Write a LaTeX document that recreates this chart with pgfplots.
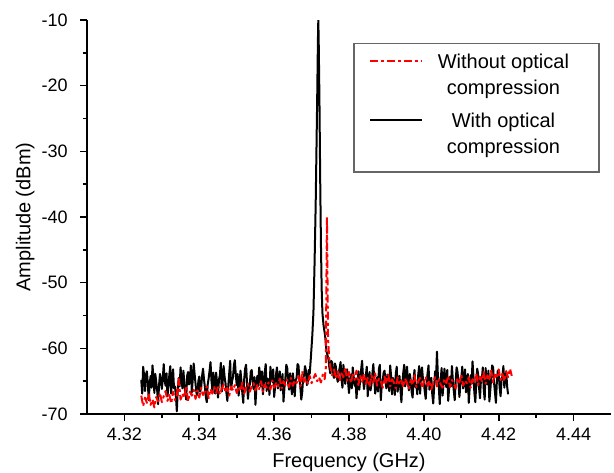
\documentclass[border=0pt]{standalone}
\usepackage{pgfplots}
\pgfplotsset{compat=1.18}
\usepackage{fontspec}
\setmainfont{Liberation Sans}
\pgfplotsset{
  legimgA/.style={legend image code/.code={\draw[##1, overlay] (-9.25pt,10.5pt) -- (29.75pt,10.5pt); \path (0pt,0pt) (39pt,10.5pt);}},
  legimgB/.style={legend image code/.code={\draw[##1, overlay] (-9.25pt,10.5pt) -- (29.75pt,10.5pt); \path (0pt,-21.75pt) (39pt,10.5pt);}},
}
\begin{document}
\begin{tikzpicture}
\begin{axis}[
  scale only axis, width=393pt, height=295.5pt,
  xmin=4.31, xmax=4.45, ymin=-70, ymax=-10,
  axis lines=left, axis line style={-, line width=1.2pt},
  xtick={4.32,4.34,4.36,4.38,4.40,4.42,4.44},
  ytick={-70,-60,-50,-40,-30,-20,-10},
  minor x tick num=1, minor y tick num=1,
  tick align=outside, major tick length=5pt, minor tick length=3pt,
  tick style={line width=1.2pt, black},
  /pgf/number format/assume math mode=true,
  xticklabel={\pgfmathprintnumber[fixed,fixed zerofill,precision=2]{\tick}},
  yticklabel={\pgfmathprintnumber[fixed,precision=0]{\tick}},
  ticklabel style={font=\fontsize{13.5}{16}\selectfont},
  xticklabel style={yshift=-2pt},
  yticklabel style={xshift=-6pt},
  label style={font=\fontsize{15}{18}\selectfont},
  xlabel={Frequency (GHz)}, ylabel={Amplitude (dBm)},
  xlabel style={at={(axis description cs:0.5,0)}, anchor=center, yshift=-36pt},
  ylabel style={at={(axis description cs:-0.118,0.5)}, anchor=center},
  legend reversed,
  legend style={at={(rel axis cs:0.508,0.942)}, anchor=north west, draw=black!60, line width=1pt,
    font=\fontsize{15}{19.5}\selectfont, inner xsep=20.5pt, inner ysep=6pt,
    cells={align=center}, row sep=8pt},
]
\coordinate (O) at (rel axis cs:0,0);
\addplot[black, line width=1.5pt, line join=round, legimgB] coordinates {
(4.32450,-64.8)(4.32475,-66.9)(4.32500,-62.8)(4.32525,-64.1)(4.32550,-66.5)(4.32575,-64.0)(4.32600,-63.5)(4.32625,-65.4)(4.32650,-67.9)(4.32675,-65.3)
(4.32700,-64.2)(4.32725,-66.0)(4.32750,-62.6)(4.32775,-64.4)(4.32800,-66.8)(4.32825,-63.9)(4.32850,-65.1)(4.32875,-66.4)(4.32900,-68.5)(4.32925,-65.6)
(4.32950,-63.9)(4.32975,-64.8)(4.33000,-66.2)(4.33025,-64.6)(4.33050,-62.4)(4.33075,-64.9)(4.33100,-65.7)(4.33125,-63.8)(4.33150,-67.3)(4.33175,-65.9)
(4.33200,-64.0)(4.33225,-62.7)(4.33250,-66.9)(4.33275,-64.4)(4.33300,-63.2)(4.33325,-66.1)(4.33350,-65.8)(4.33375,-67.2)(4.33400,-69.6)(4.33425,-66.3)
(4.33450,-64.5)(4.33475,-65.8)(4.33500,-62.9)(4.33525,-64.7)(4.33550,-66.1)(4.33575,-63.4)(4.33600,-65.2)(4.33625,-66.9)(4.33650,-67.8)(4.33675,-64.2)
(4.33700,-63.6)(4.33725,-65.5)(4.33750,-64.9)(4.33775,-62.6)(4.33800,-66.7)(4.33825,-64.8)(4.33850,-62.3)(4.33875,-63.9)(4.33900,-65.4)(4.33925,-66.8)
(4.33950,-67.1)(4.33975,-65.0)(4.34000,-64.3)(4.34025,-66.6)(4.34050,-66.0)(4.34075,-64.2)(4.34100,-63.1)(4.34125,-64.7)(4.34150,-65.9)(4.34175,-67.4)
(4.34200,-68.2)(4.34225,-65.5)(4.34250,-64.6)(4.34275,-63.4)(4.34300,-62.1)(4.34325,-64.9)(4.34350,-66.4)(4.34375,-63.7)(4.34400,-65.0)(4.34425,-66.9)
(4.34450,-63.7)(4.34475,-65.2)(4.34500,-67.5)(4.34525,-64.8)(4.34550,-64.1)(4.34575,-62.2)(4.34600,-66.6)(4.34625,-65.1)(4.34650,-62.7)(4.34675,-64.3)
(4.34700,-65.3)(4.34725,-66.8)(4.34750,-68.0)(4.34775,-65.7)(4.34800,-63.8)(4.34825,-61.9)(4.34850,-66.3)(4.34875,-65.0)(4.34900,-64.4)(4.34925,-62.6)
(4.34950,-61.8)(4.34975,-64.0)(4.35000,-65.6)(4.35025,-63.9)(4.35050,-67.2)(4.35075,-65.8)(4.35100,-63.4)(4.35125,-64.9)(4.35150,-66.8)(4.35175,-68.3)
(4.35200,-64.7)(4.35225,-63.1)(4.35250,-62.5)(4.35275,-65.2)(4.35300,-67.7)(4.35325,-66.0)(4.35350,-65.5)(4.35375,-63.6)(4.35400,-63.3)(4.35425,-65.0)
(4.35450,-66.2)(4.35475,-64.4)(4.35500,-68.6)(4.35525,-66.1)(4.35550,-64.2)(4.35575,-65.7)(4.35600,-62.9)(4.35625,-64.1)(4.35650,-65.8)(4.35675,-63.5)
(4.35700,-67.0)(4.35725,-65.4)(4.35750,-63.6)(4.35775,-62.4)(4.35800,-66.5)(4.35825,-64.6)(4.35850,-64.9)(4.35875,-67.1)(4.35900,-62.8)(4.35925,-64.3)
(4.35950,-65.1)(4.35975,-63.2)(4.36000,-67.4)(4.36025,-65.9)(4.36050,-64.0)(4.36075,-62.9)(4.36100,-66.1)(4.36125,-64.7)(4.36150,-63.5)(4.36175,-66.4)
(4.36200,-65.7)(4.36225,-63.9)(4.36250,-68.1)(4.36275,-66.0)(4.36300,-64.6)(4.36325,-62.5)(4.36350,-63.0)(4.36375,-65.3)(4.36400,-66.3)(4.36425,-63.8)
(4.36450,-65.2)(4.36475,-67.0)(4.36500,-63.8)(4.36525,-65.1)(4.36550,-67.3)(4.36575,-64.9)(4.36600,-64.5)(4.36625,-62.4)(4.36650,-62.6)(4.36675,-64.6)
(4.36700,-65.9)(4.36725,-67.8)(4.36750,-66.7)(4.36775,-64.5)(4.36800,-64.1)(4.36825,-62.7)(4.36850,-63.4)(4.36875,-65.6)(4.36900,-65.0)(4.36925,-63.3)
(4.36950,-63.9)
(4.3698,-61.5)(4.3702,-58.0)(4.3705,-54.5)(4.3708,-47.0)(4.3711,-38.0)(4.3713,-30.0)(4.3715,-22.0)(4.3717,-13.0)(4.3718,-10.0)(4.3719,-13.0)
(4.3721,-22.0)(4.3723,-34.0)(4.3725,-44.0)(4.3727,-51.0)(4.3729,-54.6)(4.3732,-56.5)(4.3736,-58.0)(4.3740,-60.5)
(4.37450,-61.6)(4.37475,-62.9)(4.37500,-63.8)(4.37525,-61.9)(4.37550,-62.2)(4.37575,-64.0)(4.37600,-64.5)(4.37625,-62.3)(4.37650,-62.8)(4.37675,-64.4)
(4.37700,-65.1)(4.37725,-63.7)(4.37750,-63.0)(4.37775,-62.1)(4.37800,-64.6)(4.37825,-66.0)(4.37850,-62.5)(4.37875,-64.0)(4.37900,-65.4)(4.37925,-63.9)
(4.37950,-63.2)(4.37975,-65.1)(4.38000,-66.8)(4.38025,-64.9)(4.38050,-64.0)(4.38075,-66.1)(4.38100,-62.9)(4.38125,-64.3)(4.38150,-65.7)(4.38175,-64.6)
(4.38200,-67.6)(4.38225,-65.8)(4.38250,-63.5)(4.38275,-66.3)(4.38300,-64.8)(4.38325,-63.2)(4.38350,-61.9)(4.38375,-64.5)(4.38400,-66.2)(4.38425,-65.0)
(4.38450,-64.1)(4.38475,-62.8)(4.38500,-67.3)(4.38525,-64.9)(4.38550,-63.6)(4.38575,-66.4)(4.38600,-65.5)(4.38625,-63.9)(4.38650,-62.4)(4.38675,-64.7)
(4.38700,-66.9)(4.38725,-65.3)(4.38750,-64.4)(4.38775,-66.6)(4.38800,-63.1)(4.38825,-62.5)(4.38850,-67.9)(4.38875,-65.6)(4.38900,-65.0)(4.38925,-63.7)
(4.38950,-63.4)(4.38975,-65.2)(4.39000,-66.1)(4.39025,-64.0)(4.39050,-64.7)(4.39075,-66.5)(4.39100,-62.6)(4.39125,-64.2)(4.39150,-67.0)(4.39175,-64.5)
(4.39200,-65.3)(4.39225,-67.1)(4.39250,-63.9)(4.39275,-62.8)(4.39300,-66.6)(4.39325,-64.9)(4.39350,-64.2)(4.39375,-66.3)(4.39400,-68.2)(4.39425,-65.4)
(4.39450,-63.7)(4.39475,-62.5)(4.39500,-65.8)(4.39525,-64.3)(4.39550,-62.8)(4.39575,-65.1)(4.39600,-66.4)(4.39625,-63.9)(4.39650,-64.9)(4.39675,-66.7)
(4.39700,-67.5)(4.39725,-64.6)(4.39750,-63.3)(4.39775,-65.9)(4.39800,-65.6)(4.39825,-67.0)(4.39850,-64.0)(4.39875,-62.7)(4.39900,-66.9)(4.39925,-64.1)
(4.39950,-62.9)(4.39975,-64.6)(4.40000,-65.2)(4.40025,-66.6)(4.40050,-67.7)(4.40075,-65.2)(4.40100,-63.8)(4.40125,-62.6)(4.40150,-66.3)(4.40175,-64.8)
(4.40200,-64.5)(4.40225,-67.0)(4.40250,-68.4)(4.40275,-65.9)(4.40300,-63.5)(4.40325,-64.8)(4.40350,-60.5)(4.40375,-64.2)(4.40400,-66.0)(4.40425,-68.5)
(4.40450,-64.8)(4.40475,-63.0)(4.40500,-67.2)(4.40525,-65.5)(4.40550,-63.1)(4.40575,-64.9)(4.40600,-65.9)(4.40625,-63.3)(4.40650,-68.0)(4.40675,-66.1)
(4.40700,-64.3)(4.40725,-65.8)(4.40750,-62.7)(4.40775,-64.9)(4.40800,-66.5)(4.40825,-67.9)(4.40850,-65.0)(4.40875,-62.9)(4.40900,-63.6)(4.40925,-65.3)
(4.40950,-67.4)(4.40975,-65.6)(4.41000,-64.6)(4.41025,-62.8)(4.41050,-66.1)(4.41075,-64.4)(4.41100,-63.2)(4.41125,-66.7)(4.41150,-65.7)(4.41175,-63.9)
(4.41200,-68.3)(4.41225,-66.0)(4.41250,-64.1)(4.41275,-65.4)(4.41300,-62.0)(4.41325,-64.3)(4.41350,-66.8)(4.41375,-68.2)(4.41400,-65.3)(4.41425,-63.1)
(4.41450,-63.9)(4.41475,-66.0)(4.41500,-67.6)(4.41525,-64.8)(4.41550,-64.7)(4.41575,-62.9)(4.41600,-66.2)(4.41625,-67.8)(4.41650,-63.0)(4.41675,-65.1)
(4.41700,-65.5)(4.41725,-63.4)(4.41750,-68.1)(4.41775,-66.4)(4.41800,-64.4)(4.41825,-62.6)(4.41850,-62.9)(4.41875,-65.2)(4.41900,-66.7)(4.41925,-68.3)
(4.41950,-65.1)(4.41975,-63.4)(4.42000,-63.7)(4.42025,-66.0)(4.42050,-67.3)(4.42075,-64.9)(4.42100,-64.2)(4.42125,-62.7)(4.42150,-66.0)(4.42175,-64.6)
(4.42200,-63.5)(4.42225,-65.8)(4.42250,-67.0)
};
\addlegendentry{With optical\\compression}
\addplot[red, line width=1.5pt, line join=round, dash pattern=on 6pt off 2.3pt on 2.3pt off 2.3pt, legimgA] coordinates {
(4.3245,-67.2)(4.3250,-68.8)(4.3255,-67.5)(4.3260,-68.3)(4.3265,-66.9)(4.3270,-68.6)(4.3275,-67.8)(4.3280,-69.0)(4.3285,-67.4)(4.3290,-68.1)
(4.3295,-66.8)(4.3300,-68.2)(4.3305,-67.3)(4.3310,-66.5)(4.3315,-68.0)(4.3320,-67.1)(4.3325,-68.4)(4.3330,-66.6)(4.3335,-67.9)(4.3340,-67.2)
(4.3345,-64.6)(4.3350,-67.8)(4.3355,-66.9)(4.3360,-67.5)(4.3365,-65.7)(4.3370,-68.1)(4.3375,-66.6)(4.3380,-67.2)(4.3385,-66.3)(4.3390,-67.7)
(4.3395,-66.4)(4.3400,-67.5)(4.3405,-66.0)(4.3410,-67.1)(4.3415,-66.6)(4.3420,-65.8)(4.3425,-67.6)(4.3430,-66.2)(4.3435,-66.9)(4.3440,-65.9)
(4.3445,-66.8)(4.3450,-65.9)(4.3455,-67.0)(4.3460,-66.2)(4.3465,-65.5)(4.3470,-66.7)(4.3475,-66.0)(4.3480,-67.2)(4.3485,-65.8)(4.3490,-66.4)
(4.3495,-65.6)(4.3500,-66.8)(4.3505,-65.9)(4.3510,-66.5)(4.3515,-65.2)(4.3520,-66.9)(4.3525,-66.0)(4.3530,-65.4)(4.3535,-66.6)(4.3540,-65.8)
(4.3545,-65.3)(4.3550,-66.4)(4.3555,-65.6)(4.3560,-66.2)(4.3565,-65.0)(4.3570,-66.6)(4.3575,-65.5)(4.3580,-66.0)(4.3585,-65.2)(4.3590,-66.3)
(4.3595,-64.9)(4.3600,-66.0)(4.3605,-65.3)(4.3610,-65.8)(4.3615,-64.6)(4.3620,-66.1)(4.3625,-65.0)(4.3630,-65.6)(4.3635,-64.8)(4.3640,-65.9)
(4.3645,-64.5)(4.3650,-65.7)(4.3655,-64.9)(4.3660,-65.3)(4.3665,-64.2)(4.3670,-65.8)(4.3675,-63.5)(4.3680,-65.1)(4.3685,-64.6)(4.3690,-65.4)
(4.3695,-64.2)(4.3700,-65.3)(4.3705,-64.6)(4.3710,-63.9)(4.3715,-65.0)(4.3720,-64.4)(4.3725,-65.2)(4.3730,-64.0)(4.3735,-64.7)
(4.3738,-63.0)(4.3741,-40.0)(4.3744,-58.5)(4.3747,-61.5)
(4.3750,-62.8)(4.3755,-64.1)(4.3760,-63.2)(4.3765,-64.6)(4.3770,-63.5)(4.3775,-65.0)(4.3780,-63.8)(4.3785,-64.4)(4.3790,-62.9)(4.3795,-64.9)
(4.3800,-63.6)(4.3805,-65.3)(4.3810,-64.0)(4.3815,-64.8)(4.3820,-63.4)(4.3825,-65.6)(4.3830,-64.2)(4.3835,-65.1)(4.3840,-63.9)(4.3845,-65.4)
(4.3850,-64.5)(4.3855,-65.9)(4.3860,-64.1)(4.3865,-65.2)(4.3870,-63.8)(4.3875,-65.7)(4.3880,-64.6)(4.3885,-65.0)(4.3890,-66.0)(4.3895,-64.3)
(4.3900,-65.4)(4.3905,-64.0)(4.3910,-65.8)(4.3915,-64.7)(4.3920,-65.2)(4.3925,-66.1)(4.3930,-64.4)(4.3935,-65.5)(4.3940,-64.9)(4.3945,-65.9)
(4.3950,-64.6)(4.3955,-65.3)(4.3960,-66.2)(4.3965,-64.8)(4.3970,-65.6)(4.3975,-64.1)(4.3980,-65.9)(4.3985,-65.0)(4.3990,-64.5)(4.3995,-66.0)
(4.4000,-65.2)(4.4005,-64.3)(4.4010,-65.7)(4.4015,-64.9)(4.4020,-66.3)(4.4025,-65.1)(4.4030,-64.4)(4.4035,-65.8)(4.4040,-64.7)(4.4045,-65.5)
(4.4050,-66.0)(4.4055,-64.6)(4.4060,-65.3)(4.4065,-64.2)(4.4070,-65.9)(4.4075,-64.8)(4.4080,-65.4)(4.4085,-66.1)(4.4090,-64.5)(4.4095,-65.2)
(4.4100,-64.0)(4.4105,-65.7)(4.4110,-64.9)(4.4115,-65.3)(4.4120,-64.4)(4.4125,-66.0)(4.4130,-64.7)(4.4135,-65.1)(4.4140,-63.8)(4.4145,-65.6)
(4.4150,-64.3)(4.4155,-65.0)(4.4160,-63.6)(4.4165,-65.4)(4.4170,-64.1)(4.4175,-64.9)(4.4180,-63.4)(4.4185,-65.2)(4.4190,-64.0)(4.4195,-64.6)
(4.4200,-63.2)(4.4205,-64.8)(4.4210,-63.9)(4.4215,-65.0)(4.4220,-63.5)(4.4225,-64.4)(4.4230,-63.1)(4.4235,-64.2)
};
\addlegendentry{Without optical\\compression}
\end{axis}
\pgfresetboundingbox
\path[use as bounding box] ([xshift=-65.25pt,yshift=-43.5pt]O) rectangle ++(460.5pt,354pt);
\end{tikzpicture}
\end{document}
